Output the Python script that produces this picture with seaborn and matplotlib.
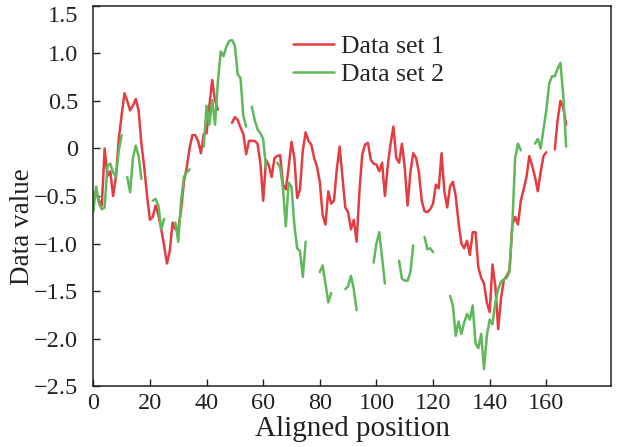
import matplotlib.pyplot as plt
import numpy as np
import pandas as pd
import seaborn as sns

nan = np.nan

# 横轴位置
positions = np.arange(168)

# 数据集 1（红线）
data_set_1 = [
    -0.50, -0.45, -0.55, -0.60, 0.00, -0.29, -0.24, -0.50, -0.30, 0.10,
    0.35, 0.58, 0.50, 0.40, 0.45, 0.52, 0.40, 0.05, -0.20, -0.50,
    -0.75, -0.72, -0.60, -0.70, -0.85, -1.02, -1.21, -1.08, -0.78, -0.85,
    -0.85, -0.65, -0.35, -0.20, 0.00, 0.14, 0.14, 0.08, -0.05, 0.15,
    0.16, 0.45, 0.72, 0.50, 0.41, nan, nan, nan, nan, 0.27,
    0.33, 0.30, 0.22, 0.15, -0.06, 0.08, 0.08, 0.08, 0.05, -0.15,
    -0.55, -0.12, -0.18, -0.30, -0.10, -0.08, -0.07, -0.38, -0.43, -0.20,
    0.07, -0.10, -0.52, -0.43, -0.02, 0.17, 0.08, 0.04, -0.10, -0.19,
    -0.35, -0.70, -0.80, -0.45, -0.58, -0.55, -0.22, 0.02, -0.30, -0.62,
    -0.67, -0.85, -0.75, -0.98, -0.45, -0.06, 0.04, 0.06, -0.12, -0.16,
    -0.17, -0.24, -0.15, -0.50, -0.18, 0.05, 0.23, -0.10, -0.15, 0.05,
    -0.20, -0.60, -0.25, -0.05, -0.10, -0.25, -0.55, -0.66, -0.67, -0.64,
    -0.58, -0.38, -0.42, -0.05, -0.45, -0.62, -0.40, -0.35, -0.50, -0.78,
    -1.00, -1.05, -0.97, -1.12, -0.88, -0.88, -1.25, -1.36, -1.42, -1.62,
    -1.72, -1.22, -1.45, -1.90, -1.58, -1.38, -1.34, -1.28, -0.80, -0.72,
    -0.80, -0.55, -0.43, -0.30, -0.08, -0.18, -0.30, -0.45, -0.25, -0.08,
    -0.04, nan, nan, -0.01, 0.30, 0.50, 0.43, 0.25,
]

# 数据集 2（绿线，含缺口）
data_set_2 = [
    -0.67, -0.40, -0.58, -0.64, -0.62, -0.18, -0.16, -0.25, -0.30, -0.02,
    0.14, nan, -0.30, -0.46, -0.10, 0.03, -0.08, -0.32, nan, nan,
    nan, -0.55, -0.53, -0.60, -0.85, -0.74, nan, nan, nan, -0.78,
    -0.98, -0.55, -0.30, -0.25, -0.22, nan, nan, nan, nan, 0.02,
    0.45, 0.25, 0.51, 0.25, 0.70, 1.02, 0.97, 1.07, 1.13, 1.14,
    1.08, 0.78, 0.74, 0.34, 0.23, nan, 0.44, 0.30, 0.20, 0.16,
    0.10, -0.20, nan, nan, nan, -0.15, -0.20, -0.42, -0.82, -0.36,
    -0.40, -0.80, -1.05, -1.08, -1.35, -0.98, nan, nan, nan, nan,
    -1.30, -1.23, -1.42, -1.62, -1.52, nan, nan, nan, nan, -1.48,
    -1.45, -1.34, -1.48, -1.70, nan, nan, nan, nan, nan, -1.20,
    -1.00, -0.88, -1.15, -1.42, nan, nan, nan, nan, -1.18, -1.37,
    -1.39, -1.39, -1.30, -1.02, nan, nan, nan, -0.93, -1.06, -1.05,
    -1.09, nan, nan, nan, nan, nan, -1.55, -1.65, -1.97, -1.82,
    -1.95, -1.83, -1.74, -1.80, -1.65, -2.05, -2.10, -1.95, -2.32, -1.97,
    -1.80, -1.85, -1.62, -1.48, -1.40, -1.38, -1.36, -1.30, -0.80, -0.10,
    0.05, -0.02, nan, nan, nan, nan, 0.05, 0.10, 0.00, 0.20,
    0.40, 0.68, 0.76, 0.76, 0.84, 0.90, 0.55, 0.02,
]

series_names = ["Data set 1", "Data set 2"]
series_colors = ["#e43c40", "#5fb85a"]

x_ticks = [0, 20, 40, 60, 80, 100, 120, 140, 160]
y_ticks = [-2.5, -2.0, -1.5, -1.0, -0.5, 0, 0.5, 1.0, 1.5]
y_tick_labels = ["\u22122.5", "\u22122.0", "\u22121.5", "\u22121.0", "\u22120.5", "0", "0.5", "1.0", "1.5"]

# 整理成长表，按缺口切分成段
frames = []
for name, values in zip(series_names, [data_set_1, data_set_2]):
    s = pd.Series(values, dtype=float)
    seg = s.isnull().cumsum()
    frames.append(pd.DataFrame({
        "position": positions,
        "value": s,
        "dataset": name,
        "segment": name + "_" + seg.astype(str),
    }))
df = pd.concat(frames).dropna(subset=["value"])

sns.set_theme(style="ticks")
plt.rcParams["font.family"] = ["Liberation Serif", "DejaVu Serif"]
plt.rcParams["axes.unicode_minus"] = True

fig = plt.figure(figsize=(6.22, 4.47), dpi=100)
ax = fig.add_axes([0.150, 0.136, 0.833, 0.851])

sns.lineplot(
    data=df,
    x="position",
    y="value",
    hue="dataset",
    units="segment",
    estimator=None,
    palette=dict(zip(series_names, series_colors)),
    linewidth=1.8,
    ax=ax,
)

ax.set_xlim(0, 183)
ax.set_ylim(-2.5, 1.5)
ax.set_xticks(x_ticks)
ax.set_xticklabels([str(t) for t in x_ticks])
ax.set_yticks(y_ticks)
ax.set_yticklabels(y_tick_labels)
ax.tick_params(axis="both", direction="in", length=5, width=1, colors="#222222", labelsize=17.5)
ax.tick_params(axis="y", pad=11)
ax.tick_params(axis="x", pad=5)
# 顶部刻度标签向下对齐，避免被裁切
ax.get_yticklabels()[-1].set_verticalalignment("top")
for sp in ax.spines.values():
    sp.set_visible(True)
    sp.set_color("#222222")
    sp.set_linewidth(1.1)

ax.set_xlabel("Aligned position", fontsize=21, labelpad=1, color="#222222")
ax.set_ylabel("Data value", fontsize=19.5, color="#222222")
ax.yaxis.set_label_coords(-0.113, 0.42)

handles, labels = ax.get_legend_handles_labels()
ax.legend(
    handles[:2], series_names,
    loc="upper left", bbox_to_anchor=(0.34, 0.985),
    frameon=False, fontsize=18.5,
    handlelength=1.6, handletextpad=0.3, labelspacing=0.2,
)

plt.savefig("out.png", dpi=100)
plt.close()
